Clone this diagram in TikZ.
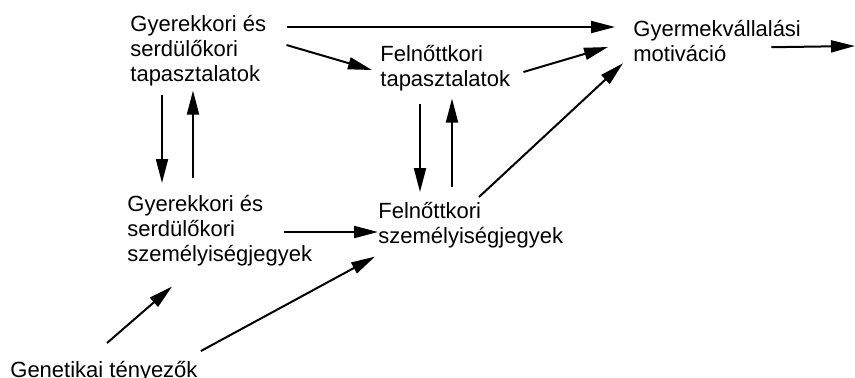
\documentclass[tikz,border=0pt]{standalone}
\usepackage{fontspec}
\setmainfont{Liberation Sans}
\usetikzlibrary{arrows.meta,calc}

\begin{document}
\begin{tikzpicture}[x=0.5pt,y=-0.5pt,
  factor/.style={anchor=north west,align=left,inner sep=0pt,font=\fontsize{11}{12.5}\selectfont},
  link/.style={line width=1pt,-{Triangle[length=12pt,width=6pt]}}]
\useasboundingbox (0,0) rectangle (855,377);
\foreach \x/\y/\name/\txt in {130/15/gyerTap/{Gyerekkori és\\serdülőkori\\tapasztalatok},
  380/45/felnTap/{Felnőttkori\\tapasztalatok},633/20/motiv/{Gyermekvállalási\\motiváció},
  127/195/gyerSzem/{Gyerekkori és\\serdülőkori\\személyiségjegyek},
  378/202/felnSzem/{Felnőttkori\\személyiségjegyek},10/361/genet/{Genetikai tényezők}}{
 \node[factor] (\name) at (\x,\y) {\txt};
 }
\coordinate (ki) at (855,46);

\draw[link] ($(gyerTap.north east)+(20,12)$) -- ($(motiv.north west)+(-18,7)$);
\draw[link] ($(gyerTap.north east)+(20,30)$) -- ($(felnTap.north west)+(-8,25)$);
\draw[link] ($(felnTap.north east)+(13,27)$) -- ($(motiv.north west)+(-25,27)$);
\draw[link] ($(motiv.south east)+(-30,-15)$) -- (ki);
\draw[link] ($(gyerTap.south west)+(32,8)$) -- ($(gyerSzem.north west)+(35,-12)$);
\draw[link] ($(gyerSzem.north west)+(66,-17)$) -- ($(gyerTap.south west)+(63,4)$);
\draw[link] ($(felnTap.south west)+(40,12)$) -- ($(felnSzem.north west)+(42,-10)$);
\draw[link] ($(felnSzem.north west)+(74,-15)$) -- ($(felnTap.south west)+(72,7)$);
\draw[link] ($(felnSzem.north west)+(101,-5)$) -- ($(motiv.south west)+(-10,1)$);
\draw[link] ($(gyerSzem.north west)+(157,37)$) -- ($(felnSzem.north west)+(0,30)$);
\draw[link] ($(genet.north west)+(97,-18)$) -- ($(gyerSzem.south west)+(45,20)$);
\draw[link] ($(genet.north east)+(3,-10)$) -- ($(felnSzem.south west)+(-3,8)$);
\end{tikzpicture}
\end{document}
